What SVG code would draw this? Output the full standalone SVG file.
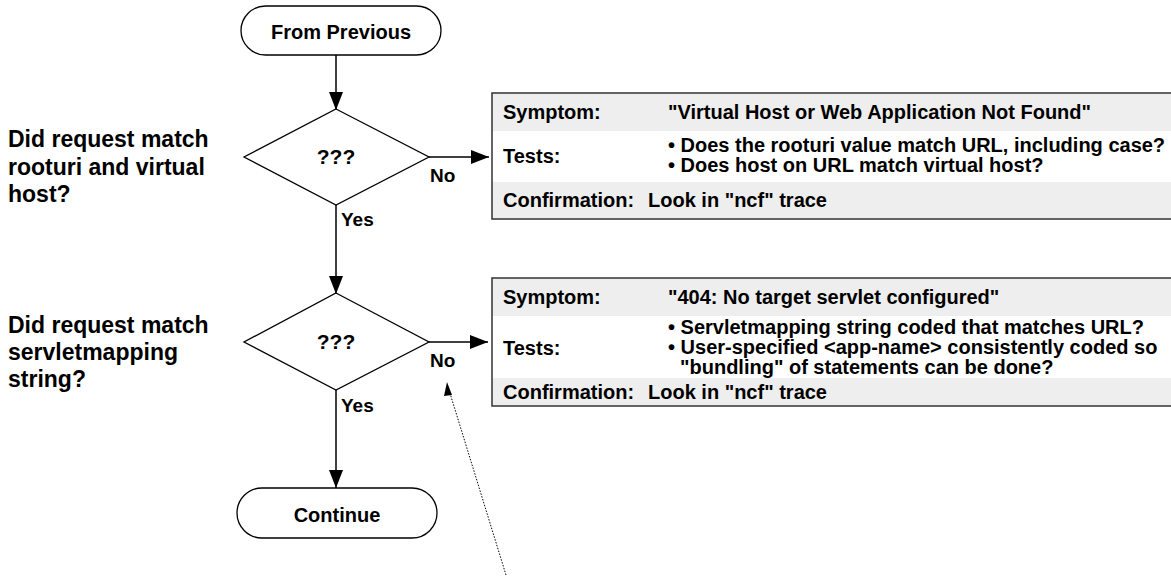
<svg xmlns="http://www.w3.org/2000/svg" width="1171" height="577" viewBox="0 0 1171 577">
  <style>
    text { font-family: "Liberation Sans", Arial, sans-serif; font-weight: bold; fill: #000; }
    .term { fill: #fff; stroke: #000; stroke-width: 1.3; }
    .dec { fill: #fff; stroke: #000; stroke-width: 1.3; }
    .flow { stroke: #000; stroke-width: 1.5; fill: none; }
    .note { stroke: #000; stroke-width: 1; stroke-dasharray: 1.5 1.5; fill: none; }
    .shade { fill: #eeeeee; }
    .plain { fill: #ffffff; }
    .frame { fill: none; stroke: #333; stroke-width: 1.5; }
    .lbl { font-size: 23px; }
    .cell { font-size: 20px; }
    .yn { font-size: 19px; }
  </style>
  <defs>
    <!-- solid flow arrowhead, drawn pointing along +x -->
    <marker id="arrow" markerUnits="userSpaceOnUse" markerWidth="18" markerHeight="14" viewBox="0 0 18 14" refX="18" refY="7" orient="auto">
      <path d="M0 0 L18 7 L0 14 Z" fill="#000"/>
    </marker>
  </defs>

  <!-- question labels -->
  <g id="question1">
    <text class="lbl" x="8" y="147">Did request match</text>
    <text class="lbl" x="8" y="175">rooturi and virtual</text>
    <text class="lbl" x="8" y="202">host?</text>
  </g>
  <g id="question2">
    <text class="lbl" x="8" y="333">Did request match</text>
    <text class="lbl" x="8" y="360">servletmapping</text>
    <text class="lbl" x="8" y="387">string?</text>
  </g>

  <!-- connectors -->
  <g id="connectors">
    <path class="flow" d="M336 55 V110" marker-end="url(#arrow)"/>
    <path class="flow" d="M336 205 V294" marker-end="url(#arrow)"/>
    <path class="flow" d="M336 390 V488" marker-end="url(#arrow)"/>
    <path class="flow" d="M429 157 H489" marker-end="url(#arrow)"/>
    <path class="flow" d="M429 342 H488" marker-end="url(#arrow)"/>
    <path class="note" d="M506 575 L449 390"/>
    <path d="M447 382 L452 395 L444 396 Z" fill="#000"/>
    <text class="yn" x="430" y="182">No</text>
    <text class="yn" x="341" y="226">Yes</text>
    <text class="yn" x="430" y="367">No</text>
    <text class="yn" x="341" y="412">Yes</text>
  </g>

  <!-- terminals -->
  <g id="from-previous">
    <rect class="term" x="241" y="6" width="200" height="49" rx="24.5"/>
    <text x="341" y="39" font-size="20" text-anchor="middle">From Previous</text>
  </g>
  <g id="continue">
    <rect class="term" x="237" y="488" width="200" height="50" rx="25"/>
    <text x="337" y="522" font-size="20" text-anchor="middle">Continue</text>
  </g>

  <!-- decisions -->
  <g id="decision1">
    <polygon class="dec" points="336,109 429,157 336,205 244,157"/>
    <text x="336" y="164" font-size="21" text-anchor="middle">???</text>
  </g>
  <g id="decision2">
    <polygon class="dec" points="336,293 429,342 336,390 244,342"/>
    <text x="336" y="349" font-size="21" text-anchor="middle">???</text>
  </g>

  <!-- diagnosis table for rooturi / virtual host -->
  <g id="table1">
    <rect class="shade" x="492" y="93" width="690" height="38"/>
    <rect class="plain" x="492" y="131" width="690" height="51"/>
    <rect class="shade" x="492" y="182" width="690" height="37"/>
    <rect class="frame" x="492" y="93" width="690" height="126"/>
    <text class="cell" x="503" y="119">Symptom:</text>
    <text class="cell" x="668" y="119">"Virtual Host or Web Application Not Found"</text>
    <text class="cell" x="503" y="163">Tests:</text>
    <text class="cell" x="668" y="152">• Does the rooturi value match URL, including case?</text>
    <text class="cell" x="668" y="172">• Does host on URL match virtual host?</text>
    <text class="cell" x="503" y="207">Confirmation:</text>
    <text class="cell" x="648" y="207">Look in "ncf" trace</text>
  </g>

  <!-- diagnosis table for servletmapping -->
  <g id="table2">
    <rect class="shade" x="492" y="278" width="690" height="38"/>
    <rect class="plain" x="492" y="316" width="690" height="62"/>
    <rect class="shade" x="492" y="378" width="690" height="28"/>
    <rect class="frame" x="492" y="278" width="690" height="128"/>
    <text class="cell" x="503" y="304">Symptom:</text>
    <text class="cell" x="668" y="304">"404: No target servlet configured"</text>
    <text class="cell" x="503" y="355">Tests:</text>
    <text class="cell" x="668" y="334">• Servletmapping string coded that matches URL?</text>
    <text class="cell" x="668" y="354">• User-specified &lt;app-name&gt; consistently coded so</text>
    <text class="cell" x="680" y="374">"bundling" of statements can be done?</text>
    <text class="cell" x="503" y="399">Confirmation:</text>
    <text class="cell" x="648" y="399">Look in "ncf" trace</text>
  </g>
</svg>
